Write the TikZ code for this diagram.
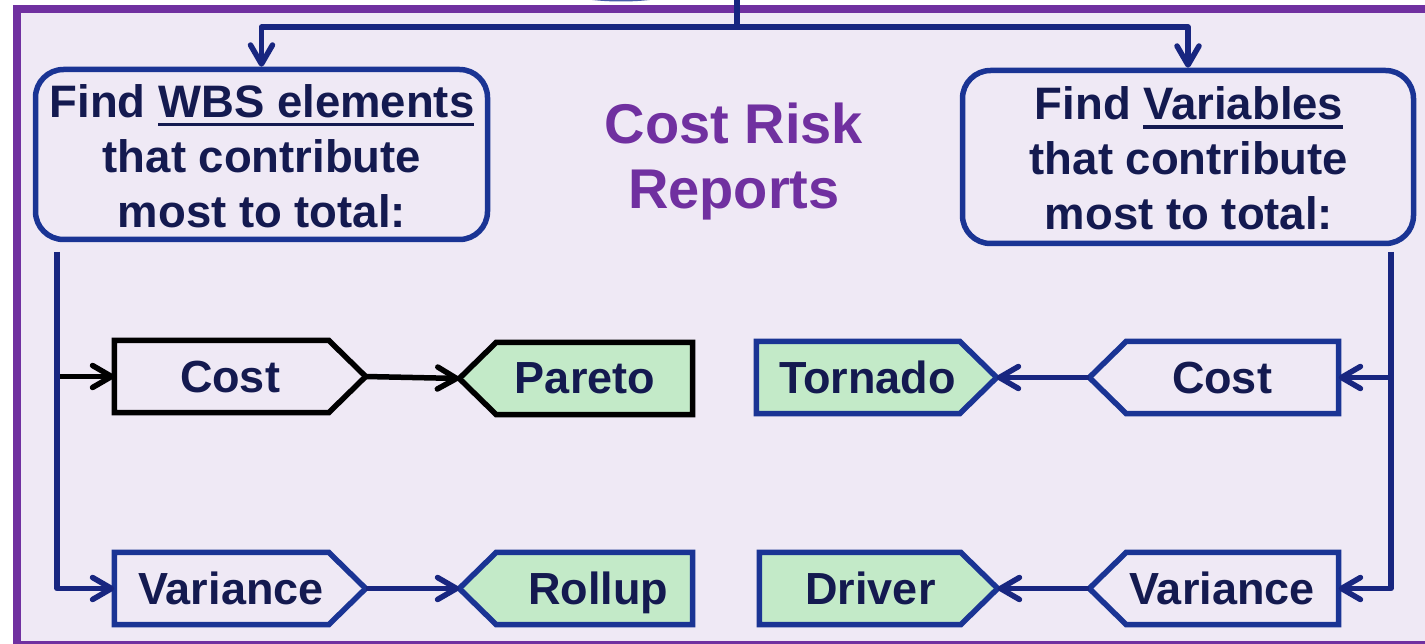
\documentclass[tikz,border=0pt]{standalone}
\usepackage{fontspec}
\setmainfont{Liberation Sans}
\usetikzlibrary{arrows.meta}

\definecolor{frameviolet}{RGB}{112,48,160}
\definecolor{panel}{RGB}{239,233,245}
\definecolor{navy}{RGB}{24,38,128}
\definecolor{edgeblue}{RGB}{26,52,148}
\definecolor{ink}{RGB}{20,26,80}
\definecolor{mint}{RGB}{195,234,200}

% thick underline for the key words in the two question boxes
\newcommand\ulword[1]{\setbox0\hbox{#1}\rlap{\rule[-9pt]{\wd0}{3.5pt}}\box0}

% step outlines: a rectangle with one pointed end, drawn on an empty frame node
\newcommand\pointE[2]{\draw[stepline,#2] (#1.north west) -- ([xshift=-37pt]#1.north east) -- (#1.east) -- ([xshift=-37pt]#1.south east) -- (#1.south west) -- cycle;}
\newcommand\pointW[2]{\draw[stepline,#2] (#1.north east) -- ([xshift=37pt]#1.north west) -- (#1.west) -- ([xshift=37pt]#1.south west) -- (#1.south east) -- cycle;}

\tikzset{
  findbox/.style={draw=edgeblue, line width=5.5pt, rounded corners=28pt, inner sep=0pt},
  findtext/.style={text=ink, font=\fontsize{45.5}{55}\selectfont\bfseries, align=center},
  titletext/.style={text=frameviolet, font=\fontsize{56}{65}\selectfont\bfseries, align=center},
  stepframe/.style={minimum width=#1, minimum height=72pt, inner sep=0pt},
  stepline/.style={line width=5.5pt, line join=miter},
  tag/.style={text=ink, font=\fontsize{45}{50}\selectfont\bfseries, anchor=base, inner sep=0pt},
  wire/.style={line width=5.5pt, draw=navy, line join=round},
  tip/.style={-{Straight Barb[length=19pt, width=22pt, round]}}
}

\begin{document}
\begin{tikzpicture}[x=1pt, y=-1pt]
\useasboundingbox (0,0) rectangle (1425,644);
\clip (0,0) rectangle (1425,644);
\fill[white] (0,0) rectangle (1425,644);

% panel with violet frame
\draw[frameviolet, line width=8pt, fill=panel] (17,9) rectangle (1460,645);

% edge of the shape above the panel
\draw[edgeblue, line width=3pt, opacity=0.8] (621,-42) ellipse (108pt and 42pt);

% question boxes
\node[findbox, minimum width=452pt, minimum height=170pt] (boxL) at (261.5,154.5) {};
\node[findbox, minimum width=451pt, minimum height=173pt] (boxR) at (1188,157) {};
\node[findtext] (boxL-t) at (262,156) {Find \ulword{WBS elements}\\that contribute\\most to total:};
\node[findtext] (boxR-t) at (1189,158.5) {Find \ulword{Variables}\\that contribute\\most to total:};

\node[titletext] (title) at (734,161.3) {Cost Risk\\Reports};

% step frames
\node[stepframe=251pt] (costL)   at (240,376.5) {};
\node[stepframe=233pt] (pareto)  at (576,378.5) {};
\node[stepframe=240pt] (tornado) at (876.5,377.5) {};
\node[stepframe=249pt] (costR)   at (1214,377.5) {};
\node[stepframe=251pt] (varL)    at (240,588.5) {};
\node[stepframe=233pt] (rollup)  at (576,588.5) {};
\node[stepframe=238pt] (driver)  at (878.5,588.5) {};
\node[stepframe=249pt] (varR)    at (1214,588.5) {};

\pointE{costL}{draw=black}
\pointW{pareto}{draw=black, fill=mint}
\pointE{tornado}{draw=edgeblue, fill=mint}
\pointW{costR}{draw=edgeblue}
\pointE{varL}{draw=edgeblue}
\pointW{rollup}{draw=edgeblue, fill=mint}
\pointE{driver}{draw=edgeblue, fill=mint}
\pointW{varR}{draw=edgeblue}

\node[tag] (costL-t)   at ([xshift=-10pt, yshift=-16pt]costL.center)   {Cost};
\node[tag] (pareto-t)  at ([xshift=9pt,  yshift=-15pt]pareto.center)  {Pareto};
\node[tag] (tornado-t) at ([xshift=-9pt, yshift=-15.5pt]tornado.center) {Tornado};
\node[tag] (costR-t)   at ([xshift=8pt,  yshift=-15.5pt]costR.center)   {Cost};
\node[tag] (varL-t)    at ([xshift=-9pt, yshift=-16pt]varL.center)    {Variance};
\node[tag] (rollup-t)  at ([xshift=22pt, yshift=-16pt]rollup.center)  {Rollup};
\node[tag] (driver-t)  at ([xshift=-8pt, yshift=-16pt]driver.center)  {Driver};
\node[tag] (varR-t)    at ([xshift=8pt,  yshift=-16pt]varR.center)    {Variance};

% feed from above, split to both questions
\coordinate (feed) at (737,0);
\coordinate (split) at (737,27);
\draw[wire] (feed) -- (split);
\draw[wire, tip] (split) -| (boxL.north);
\draw[wire, tip] (split) -| (boxR.north);

% left rail: WBS elements
\coordinate (lrail) at (57,252);
\draw[wire, draw=black, tip] (lrail |- costL.west) -- (costL.west);
\draw[wire, tip] (lrail) |- (varL.west);
\draw[wire, draw=black, tip] (costL.east) -- (pareto.west);
\draw[wire, tip] (varL.east) -- (rollup.west);

% right rail: variables
\coordinate (rrail) at (1391,252);
\draw[wire, tip] (rrail |- costR.east) -- (costR.east);
\draw[wire, tip] (rrail) |- (varR.east);
\draw[wire, tip] (costR.west) -- (tornado.east);
\draw[wire, tip] (varR.west) -- (driver.east);
\end{tikzpicture}
\end{document}
